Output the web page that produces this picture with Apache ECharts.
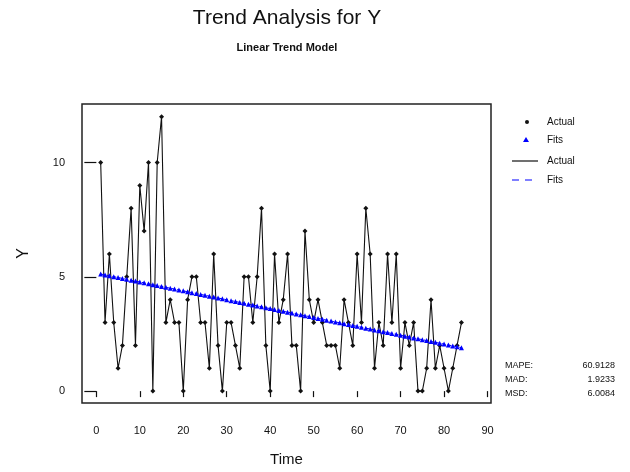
<!DOCTYPE html>
<html>
<head>
<meta charset="utf-8">
<script src="https://cdn.jsdelivr.net/npm/echarts@6/dist/echarts.min.js"></script>
<style>
  html, body { margin: 0; padding: 0; background: #fff; }
  #chart { width: 630px; height: 472px; }
</style>
</head>
<body>
<div id="chart"></div>
<script>
// observed Y, one value per time period (t = 1..84)
const actual = [
  10, 3, 6, 3, 1, 2, 5, 8, 2, 9,
  7, 10, 0, 10, 12, 3, 4, 3, 3, 0,
  4, 5, 5, 3, 3, 1, 6, 2, 0, 3,
  3, 2, 1, 5, 5, 3, 5, 8, 2, 0,
  6, 3, 4, 6, 2, 2, 0, 7, 4, 3,
  4, 3, 2, 2, 2, 1, 4, 3, 2, 6,
  3, 8, 6, 1, 3, 2, 6, 3, 6, 1,
  3, 2, 3, 0, 0, 1, 4, 1, 2, 1,
  0, 1, 2, 3
];
const xTicks = [0, 10, 20, 30, 40, 50, 60, 70, 80, 90];
const yTicks = [0, 5, 10];
const accuracyLabels = ["MAPE:", "MAD:", "MSD:"];
const accuracyValues = ["60.9128", "1.9233", "6.0084"];

const font = "Liberation Sans, Arial, sans-serif";

// linear trend model: least squares fit of actual on t
const n = actual.length;
let st = 0, sy = 0, stt = 0, sty = 0;
actual.forEach((y, i) => {
  const t = i + 1;
  st += t; sy += y; stt += t * t; sty += t * y;
});
const slope = (n * sty - st * sy) / (n * stt - st * st);
const intercept = (sy - slope * st) / n;

const actualData = actual.map((y, i) => [i + 1, y]);
const fitsData = actual.map((y, i) => [i + 1, intercept + slope * (i + 1)]);

const chart = echarts.init(document.getElementById("chart"));

const option = {
  backgroundColor: "#fff",
  animation: false,
  grid: {
    left: 82, right: 139, top: 104, bottom: 68,
    show: true, borderColor: "#222", borderWidth: 1.5
  },
  xAxis: {
    type: "value",
    min: -3.3, max: 90.8,
    offset: 3,
    name: "Time",
    nameLocation: "middle",
    nameGap: 46,
    nameTextStyle: { fontFamily: font, fontSize: 15, color: "#111" },
    axisLine: { show: false },
    splitLine: { show: false },
    axisTick: { length: 6, customValues: xTicks, lineStyle: { color: "#111", width: 1.2 } },
    axisLabel: { customValues: xTicks, margin: 19, fontFamily: font, fontSize: 11, color: "#111" }
  },
  yAxis: {
    type: "value",
    min: -0.52, max: 12.56,
    name: "Y",
    nameLocation: "middle",
    nameRotate: 90,
    nameGap: 50,
    nameTextStyle: { fontFamily: font, fontSize: 16, color: "#111" },
    axisLine: { show: false },
    splitLine: { show: false },
    axisTick: { length: 12, customValues: yTicks, lineStyle: { color: "#111", width: 1.2 } },
    axisLabel: { customValues: yTicks, margin: 17, fontFamily: font, fontSize: 11, color: "#111" }
  },
  series: [
    {
      name: "Actual",
      type: "line",
      data: actualData,
      symbol: "diamond",
      symbolSize: 5,
      lineStyle: { color: "#111", width: 1.1 },
      itemStyle: { color: "#111" },
      z: 2
    },
    {
      name: "Fits",
      type: "line",
      data: fitsData,
      symbol: "triangle",
      symbolSize: 5,
      lineStyle: { color: "#0000ff", width: 1, type: "dashed" },
      itemStyle: { color: "#0000ff" },
      z: 3
    }
  ],
  graphic: [
    // titles
    { type: "text", x: 287, y: 18, style: { text: "Trend Analysis for Y", fontFamily: font, fontSize: 21, fill: "#111", align: "center", verticalAlign: "middle" } },
    { type: "text", x: 287, y: 48, style: { text: "Linear Trend Model", fontFamily: font, fontSize: 11, fontWeight: "bold", fill: "#111", align: "center", verticalAlign: "middle" } },
    // legend
    { type: "circle", shape: { cx: 527, cy: 122, r: 2 }, style: { fill: "#111" } },
    { type: "text", x: 547, y: 122, style: { text: "Actual", fontFamily: font, fontSize: 10, fill: "#111", verticalAlign: "middle" } },
    { type: "polygon", shape: { points: [[526, 137], [529, 142], [523, 142]] }, style: { fill: "#0000ff" } },
    { type: "text", x: 547, y: 140, style: { text: "Fits", fontFamily: font, fontSize: 10, fill: "#111", verticalAlign: "middle" } },
    { type: "line", shape: { x1: 512, y1: 161, x2: 538, y2: 161 }, style: { stroke: "#111", lineWidth: 1.2 } },
    { type: "text", x: 547, y: 161, style: { text: "Actual", fontFamily: font, fontSize: 10, fill: "#111", verticalAlign: "middle" } },
    { type: "line", shape: { x1: 512, y1: 180, x2: 538, y2: 180 }, style: { stroke: "#0000ff", lineWidth: 1.2, lineDash: [7, 6] } },
    { type: "text", x: 547, y: 180, style: { text: "Fits", fontFamily: font, fontSize: 10, fill: "#111", verticalAlign: "middle" } },
    // accuracy measures
    ...accuracyLabels.map((label, i) => ({
      type: "text", x: 505, y: 366 + i * 14,
      style: { text: label, fontFamily: font, fontSize: 9, fill: "#111", verticalAlign: "middle" }
    })),
    ...accuracyValues.map((val, i) => ({
      type: "text", x: 615, y: 366 + i * 14,
      style: { text: val, fontFamily: font, fontSize: 9, fill: "#111", align: "right", verticalAlign: "middle" }
    }))
  ]
};

chart.setOption(option);
</script>
</body>
</html>
